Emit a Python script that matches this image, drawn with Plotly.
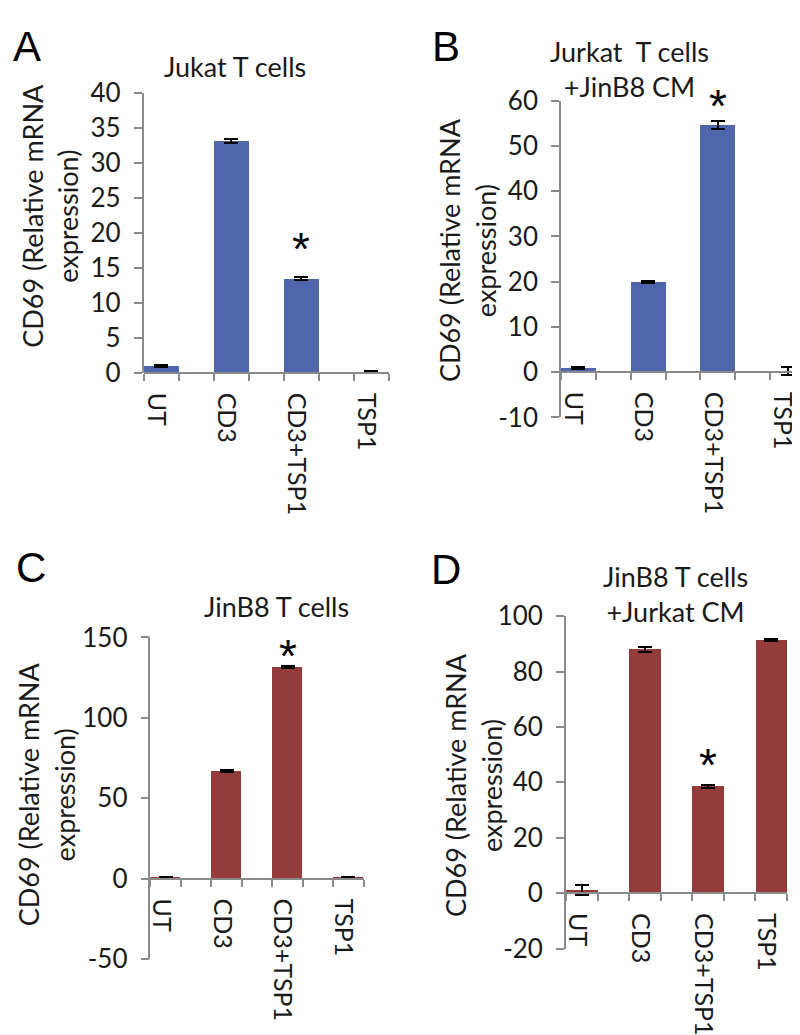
import plotly.graph_objects as go

# ---------------- data ----------------
categories = ["UT", "CD3", "CD3+TSP1", "TSP1"]

a_values = [1.0, 33.1, 13.5, 0.2]
a_errors = [0.1, 0.3, 0.2, 0.05]
a_yticks = [0, 5, 10, 15, 20, 25, 30, 35, 40]

b_values = [1.0, 20.0, 54.7, 0.3]
b_errors = [0.2, 0.2, 0.9, 0.9]
b_yticks = [-10, 0, 10, 20, 30, 40, 50, 60]

c_values = [1.0, 67.0, 131.5, 0.2]
c_errors = [0.4, 0.4, 0.5, 0.6]
c_yticks = [-50, 0, 50, 100, 150]

d_values = [1.0, 88.1, 38.5, 91.3]
d_errors = [1.8, 0.9, 0.7, 0.4]
d_yticks = [-20, 0, 20, 40, 60, 80, 100]

a_title = "Jukat T cells"
b_title = "Jurkat&nbsp; T cells<br>+JinB8 CM"
c_title = "JinB8 T cells"
d_title = "JinB8 T cells<br>+Jurkat CM"
y_title = "CD69 (Relative mRNA<br>expression)"

significant_index = 2  # CD3+TSP1 marked with *

# ---------------- styling / layout ----------------
W, H = 800, 1035
BLUE = "#4F66AD"
RED = "#943C3B"
AXIS = "#8a8a8a"
TXT = "#1a1a1a"
FONT = "Lato"


def px_x(x):
    return x / W


def px_y(y):
    return 1 - y / H


panels = [
    dict(letter="A", title=a_title, vals=a_values, errs=a_errors, yticks=a_yticks, color=BLUE,
         x0=133, x1=379, ytop=70, ybot=359, zero=359,
         letter_xy=(16, 22), title_xy=(225, 43), ytitle_xy=(39, 197), star_shift=28),
    dict(letter="B", title=b_title, vals=b_values, errs=b_errors, yticks=b_yticks, color=BLUE,
         x0=552, x1=797, ytop=78, ybot=405, zero=358,
         letter_xy=(437, 22), title_xy=(621, 45), ytitle_xy=(458, 232), star_shift=15),
    dict(letter="C", title=c_title, vals=c_values, errs=c_errors, yticks=c_yticks, color=RED,
         x0=140, x1=354, ytop=632, ybot=964, zero=881,
         letter_xy=(20, 560), title_xy=(267, 600), ytitle_xy=(36, 794), star_shift=10),
    dict(letter="D", title=d_title, vals=d_values, errs=d_errors, yticks=d_yticks, color=RED,
         x0=557, x1=779, ytop=610, ybot=953, zero=896,
         letter_xy=(437, 562), title_xy=(667, 587), ytitle_xy=(464, 784), star_shift=20),
]

fig = go.Figure()
annotations = []
layout_axes = {}
minor_vals = [-0.25 + 0.5 * k for k in range(8)]

for i, p in enumerate(panels, start=1):
    xa = "x" if i == 1 else f"x{i}"
    ya = "y" if i == 1 else f"y{i}"
    fig.add_trace(go.Bar(
        x=list(range(len(categories))), y=p["vals"], width=0.5,
        marker=dict(color=p["color"], line=dict(width=0)),
        error_y=dict(type="data", array=p["errs"], visible=True,
                     color="black", thickness=2, width=7),
        xaxis=xa, yaxis=ya, showlegend=False, hoverinfo="skip",
    ))
    layout_axes["xaxis" if i == 1 else f"xaxis{i}"] = dict(
        domain=[px_x(p["x0"]), px_x(p["x1"])],
        range=[-0.25, 3.25],
        anchor="free", position=px_y(p["zero"]),
        showline=True, linecolor=AXIS, linewidth=1.5,
        showgrid=False, zeroline=False,
        tickmode="array", tickvals=list(range(len(categories))), ticktext=categories,
        ticks="", tickangle=90, ticklabelstandoff=14, ticklabelshift=-5,
        tickfont=dict(family=FONT, size=25, color=TXT),
        minor=dict(tickmode="array", tickvals=minor_vals, ticks="outside",
                   ticklen=7, tickwidth=1.5, tickcolor=AXIS, showgrid=False),
        fixedrange=True,
    )
    yt = p["yticks"]
    layout_axes["yaxis" if i == 1 else f"yaxis{i}"] = dict(
        domain=[px_y(p["ybot"]), px_y(p["ytop"])],
        range=[yt[0], yt[-1]], anchor=xa,
        tickmode="array", tickvals=yt, ticktext=[str(v) for v in yt],
        ticks="outside", ticklen=8, tickwidth=1.5, tickcolor=AXIS,
        showline=True, linecolor=AXIS, linewidth=1.5,
        showgrid=False, zeroline=False, ticklabelstandoff=8,
        tickfont=dict(family=FONT, size=26, color=TXT),
        fixedrange=True,
    )
    # panel letter
    lx, ly = p["letter_xy"]
    annotations.append(dict(
        text=p["letter"], x=px_x(lx), y=px_y(ly), xref="paper", yref="paper",
        xanchor="center", yanchor="middle", showarrow=False,
        font=dict(family="Liberation Sans", size=42, color="black")))
    # panel title
    tx, ty = p["title_xy"]
    annotations.append(dict(
        text=p["title"], x=px_x(tx), y=px_y(ty), xref="paper", yref="paper",
        xanchor="center", yanchor="middle", showarrow=False, align="center",
        font=dict(family=FONT, size=27, color=TXT)))
    # y-axis title
    yx, yy = p["ytitle_xy"]
    annotations.append(dict(
        text=y_title, x=px_x(yx), y=px_y(yy), xref="paper", yref="paper",
        xanchor="center", yanchor="middle", showarrow=False, align="center",
        textangle=-90, font=dict(family=FONT, size=27, color=TXT)))
    # significance star
    k = significant_index
    annotations.append(dict(
        text="*", x=k, y=p["vals"][k] + p["errs"][k], xref=xa, yref=ya,
        xanchor="center", yanchor="middle", yshift=p["star_shift"], showarrow=False,
        font=dict(family="Liberation Sans", size=46, color="black")))

fig.update_layout(
    width=W, height=H,
    margin=dict(l=0, r=0, t=0, b=0),
    paper_bgcolor="white", plot_bgcolor="white",
    annotations=annotations,
    bargap=0,
    **layout_axes,
)

fig.write_html("out.html")
